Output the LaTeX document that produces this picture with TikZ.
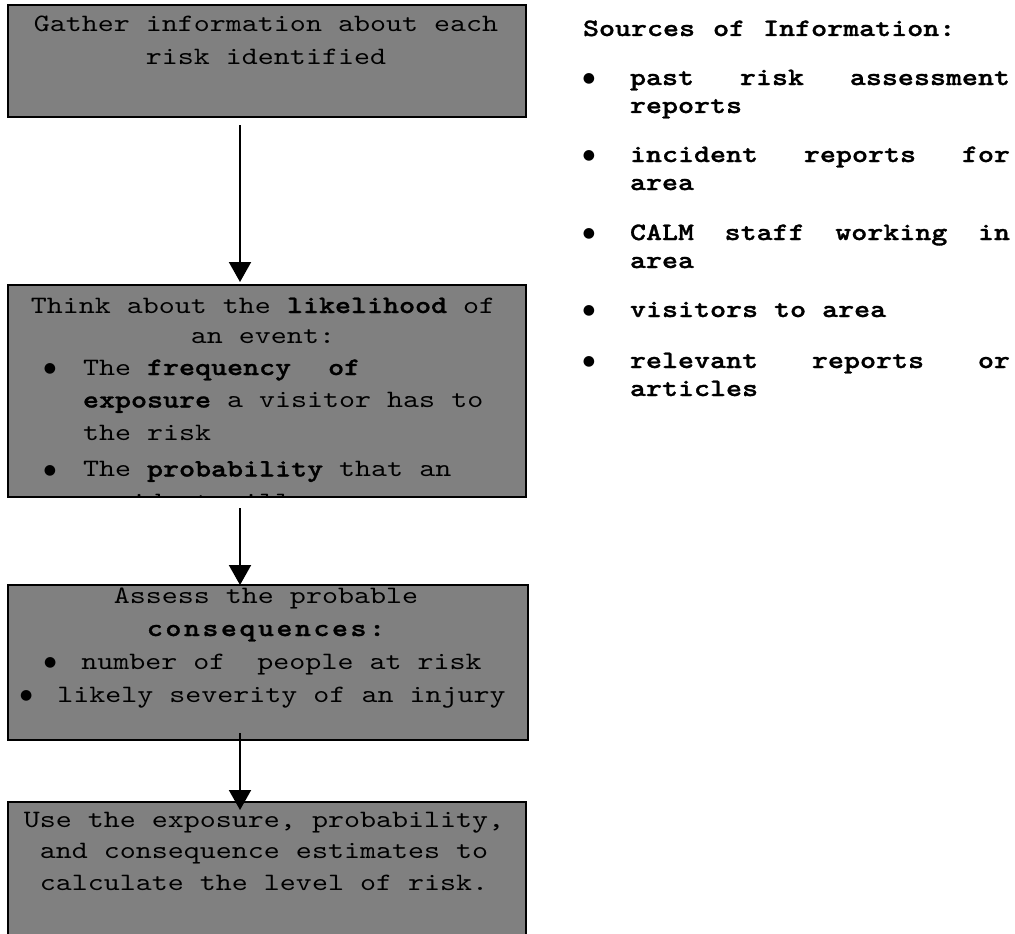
\documentclass[tikz,border=0pt]{standalone}
\usepackage{fontspec}
\setmonofont[BoldFont=lmmonolt10-bold.otf,BoldFeatures={FakeBold=1.2},FakeStretch=1.22]{lmmono10-regular.otf}
\newfontfamily\dotfont{DejaVu Sans}
\usetikzlibrary{arrows.meta,calc}

\definecolor{boxgray}{RGB}{128,128,128}

% bullet glyph centred on the current point
\newcommand\dotglyph{\makebox[0pt]{\raisebox{2.5pt}{\dotfont\fontsize{14pt}{14pt}\selectfont ●}}}
% bullet that takes up #1 of the line before the item text
\newcommand\dotlead[1]{\makebox[#1][l]{\dotglyph}}
% bullet hung to the left of the item text, #1 before it
\newcommand\listdot[1]{\leavevmode\llap{\dotglyph\hspace{#1}}}
% line spread out to the full column width
\newcommand\spread[1]{{\spaceskip=16pt plus 1fil\relax\makebox[380pt][s]{#1}}}

\newcommand\boxfont{\ttfamily\fontsize{25pt}{32.5pt}\selectfont}
\newcommand\srcfont{\ttfamily\bfseries\fontsize{25pt}{28pt}\selectfont}

\tikzset{
  stepbox/.style={draw=black, line width=2pt, fill=boxgray, inner sep=0pt,
    outer sep=0pt, anchor=north west, minimum width=518pt},
  boxtext/.style={inner sep=0pt, outer sep=0pt, anchor=base, font=\boxfont},
  listtext/.style={inner sep=0pt, outer sep=0pt, anchor=base west, font=\boxfont},
  srctext/.style={inner sep=0pt, outer sep=0pt, anchor=base west, font=\srcfont},
  flow/.style={line width=2pt, -{Triangle[width=22pt,length=20pt]}},
}

\begin{document}
\begin{tikzpicture}[x={(1pt,0pt)}, y={(0pt,-1pt)}]
\useasboundingbox (0,0) rectangle (1015,934);
\clip (0,0) rectangle (1015,934);

% process boxes
\node[stepbox, minimum height=112pt] (b1) at (8,5) {};
\node[stepbox, minimum height=212pt] (b2) at (8,285) {};
\node[stepbox, minimum width=520pt, minimum height=155pt] (b3) at (8,585) {};
\node[stepbox, minimum height=150pt] (b4) at (8,802) {};

% box texts
\node[boxtext] (t1) at (266,32) {\parbox[t]{518pt}{\setlength\baselineskip{33pt}\centering
  Gather information about each\\ risk identified}};

\begin{scope}
  \clip (b2.north west) rectangle (b2.south east);
  \node[boxtext] (t2) at (263,313) {\parbox[t]{518pt}{\setlength\baselineskip{30pt}\centering
    Think about the \textbf{likelihood} of\\ an event:}};
  \node[listtext] (t2l) at (83,375) {\parbox[t]{430pt}{\raggedright
    \listdot{33pt}The \textbf{frequency}\hspace{21pt} \textbf{of}\\
    \textbf{exposure} a visitor has to\\
    the risk\\[4pt]
    \listdot{33pt}The \textbf{probability} that an\\
    accident will occur}};
\end{scope}

\node[boxtext] (t3) at (266,603) {\parbox[t]{520pt}{\setlength\baselineskip{33pt}\centering
  Assess the probable\\
  {\bfseries\addfontfeature{LetterSpace=10}consequences:}\\
  \dotlead{31pt}number of\ \ people at risk\\
  \dotlead{31pt}likely severity of an injury}};

\node[boxtext] (t4) at (264,827) {\parbox[t]{518pt}{\setlength\baselineskip{31.5pt}\centering
  Use the exposure, probability,\\ and consequence estimates to\\ calculate the level of risk.}};

% connectors
\coordinate (ax) at (240,0);
\draw[flow] ($(b1.south -| ax)+(0,8)$) -- ($(b2.north -| ax)+(0,-3)$);
\draw[flow] ($(b2.south -| ax)+(0,11)$) -- (b3.north -| ax);
\draw[flow] ($(b3.south -| ax)+(0,-7)$) -- ($(b4.north -| ax)+(0,8)$);

% sources column
\node[srctext] (src) at (583,36) {\spaceskip=18pt\relax Sources of Information:};
\node[srctext] (s1) at (630,85) {\parbox[t]{380pt}{\listdot{41pt}\spread{past risk assessment}\\ reports}};
\node[srctext] (s2) at (630,162) {\parbox[t]{380pt}{\listdot{41pt}\spread{incident reports for}\\ area}};
\node[srctext] (s3) at (630,240) {\parbox[t]{380pt}{\listdot{41pt}\spread{CALM staff working in}\\ area}};
\node[srctext] (s4) at (630,317) {\parbox[t]{380pt}{\listdot{41pt}visitors to area}};
\node[srctext] (s5) at (630,368) {\parbox[t]{380pt}{\listdot{41pt}\spread{relevant reports or}\\ articles}};
\end{tikzpicture}
\end{document}
